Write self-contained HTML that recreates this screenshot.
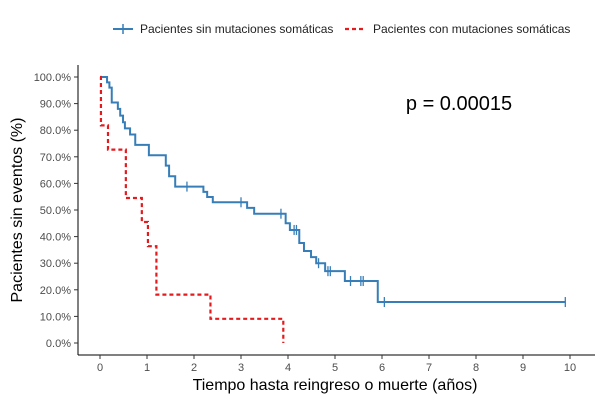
<!DOCTYPE html>
<html><head><meta charset="utf-8"><style>
body{margin:0;background:#fff;font-family:"Liberation Sans",sans-serif}
svg text{font-family:"Liberation Sans",sans-serif}
</style></head><body>
<svg id="chart" width="604" height="404">
<g id="legend">
  <g>
    <line x1="113" y1="29" x2="133" y2="29" stroke="#377eb8" stroke-width="2"/>
    <line x1="123" y1="24" x2="123" y2="34" stroke="#377eb8" stroke-width="1.5"/>
    <text x="140" y="33" font-size="12" fill="#222">Pacientes sin mutaciones somáticas</text>
  </g>
  <g>
    <line x1="345" y1="29" x2="365" y2="29" stroke="#e41a1c" stroke-width="2.2" stroke-dasharray="4,3"/>
    <text x="373" y="33" font-size="12" fill="#222">Pacientes con mutaciones somáticas</text>
  </g>
</g>
<text x="459" y="110" font-size="20" text-anchor="middle" fill="#000">p = 0.00015</text>
<g id="axes"></g>
<g id="series"></g>
<text x="335" y="390" font-size="16" text-anchor="middle" fill="#000">Tiempo hasta reingreso o muerte (años)</text>
<text transform="translate(22,210) rotate(-90)" font-size="16" text-anchor="middle" fill="#000">Pacientes sin eventos (%)</text>
</svg>
<script>
const xTicks=[0,1,2,3,4,5,6,7,8,9,10];
const yTicks=[0,10,20,30,40,50,60,70,80,90,100];
const sinTimes=[0,0.15,0.2,0.25,0.38,0.43,0.49,0.53,0.64,0.75,1.04,1.4,1.47,1.6,2.2,2.28,2.4,3.13,3.28,3.95,4.04,4.24,4.34,4.49,4.6,4.79,5.21,5.91,9.9];
const sinSurv=[100,98,96,90.4,88,85.5,83,80.7,78.4,74.5,70.6,66.7,62.7,58.8,56.8,54.9,52.9,50.8,48.6,45,42.5,37.6,34.6,32.3,30,27,23.3,15.4,15.4];
const sinCensor=[1.85,3.0,3.85,4.13,4.18,4.65,4.85,4.9,5.33,5.55,5.6,6.05,9.9];
const conTimes=[0,0.02,0.17,0.55,0.89,1.02,1.2,2.35,3.9];
const conSurv=[100,81.8,72.7,54.5,45.5,36.4,18.2,9.1,0];
const conEnd=3.9;
const NS="http://www.w3.org/2000/svg";
const X=t=>100+47*t, Y=s=>343-2.66*s;
function mk(tag,attrs,parent){const e=document.createElementNS(NS,tag);for(const k in attrs)e.setAttribute(k,attrs[k]);parent.appendChild(e);return e;}
const axes=document.getElementById('axes'), ser=document.getElementById('series');
let a=mk('line',{x1:78,y1:65,x2:78,y2:355,stroke:'#000','stroke-width':1},axes);


a=mk('line',{x1:78,y1:355,x2:595,y2:355,stroke:'#000','stroke-width':1},axes);


yTicks.forEach(v=>{
  mk('line',{x1:74,y1:Y(v),x2:78,y2:Y(v),stroke:'#333'},axes);
  const t=mk('text',{x:71,y:Y(v)+4,'font-size':11,'text-anchor':'end',fill:'#4d4d4d'},axes);
  t.textContent=v.toFixed(1)+'%';
  
  
});
xTicks.forEach(v=>{
  mk('line',{x1:X(v),y1:355,x2:X(v),y2:359,stroke:'#333'},axes);
  const t=mk('text',{x:X(v),y:371,'font-size':11,'text-anchor':'middle',fill:'#4d4d4d'},axes);
  t.textContent=v;
  
  
});
function stepPath(ts,ss,end){let d='M'+X(ts[0])+','+Y(ss[0]);for(let i=1;i<ts.length;i++){d+=' H'+X(ts[i])+' V'+Y(ss[i]);}if(end!==undefined)d+=' H'+X(end);return d;}
function survAt(t){let s=100;for(let i=0;i<sinTimes.length;i++){if(sinTimes[i]<=t)s=sinSurv[i];}return s;}
let p=mk('path',{d:stepPath(sinTimes,sinSurv),fill:'none',stroke:'#377eb8','stroke-width':2},ser);


sinCensor.forEach(t=>{
  const c=mk('line',{x1:X(t),y1:Y(survAt(t))-5,x2:X(t),y2:Y(survAt(t))+5,stroke:'#377eb8','stroke-width':1.3},ser);
  
  
});
p=mk('path',{d:stepPath(conTimes,conSurv,conEnd),fill:'none',stroke:'#e41a1c','stroke-width':2.2,'stroke-dasharray':'4,3'},ser);


</script>
</body></html>
